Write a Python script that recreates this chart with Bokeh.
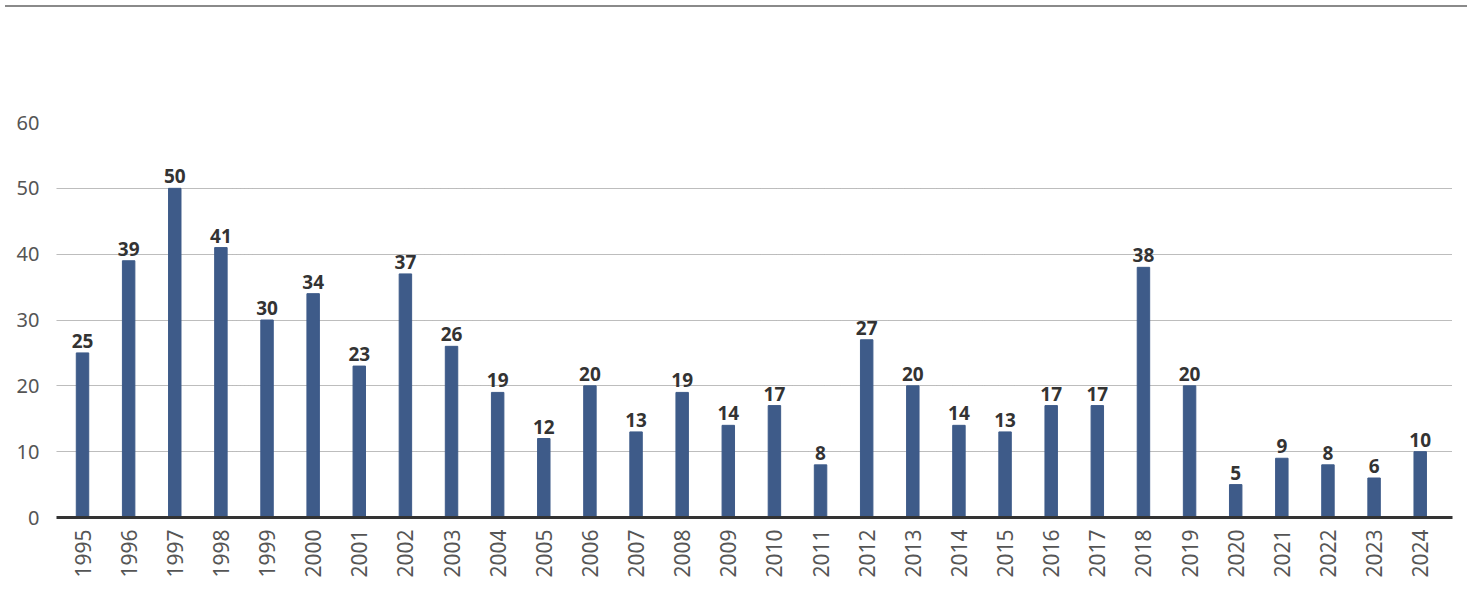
from bokeh.plotting import figure
from bokeh.models import Range1d, FixedTicker, ColumnDataSource, Div
from bokeh.core.properties import value
from bokeh.layouts import column
from bokeh.embed import file_html
from bokeh.resources import INLINE
import math

years = list(range(1995, 2025))
values = [25, 39, 50, 41, 30, 34, 23, 37, 26, 19, 12, 20, 13, 19, 14, 17, 8, 27, 20, 14,
          13, 17, 17, 38, 20, 5, 9, 8, 6, 10]
y_ticks = [0, 10, 20, 30, 40, 50, 60]

src = ColumnDataSource(dict(x=years, top=values, label=[str(v) for v in values]))

FONT = "Noto Sans"

p = figure(width=1462, height=573, output_backend="svg", toolbar_location=None,
           x_range=Range1d(1995 - 0.564, 2024 + 0.70), y_range=Range1d(0, 60),
           min_border_left=56, min_border_right=10, min_border_top=110, min_border_bottom=68)
p.outline_line_color = None
p.background_fill_color = "white"
p.border_fill_color = "white"

p.vbar(x="x", top="top", width=0.27, source=src, color="#3e5b89")

p.text(x="x", y="top", text="label", source=src, text_align="center",
       text_baseline="bottom", y_offset=-5, text_font_size="19px",
       text_color="#333333", text_font=value(FONT), text_font_style="bold")

p.xgrid.grid_line_color = None
p.ygrid.grid_line_color = "#7a7a7a"
p.ygrid.grid_line_dash = "1 1"
p.ygrid.grid_line_width = 1
p.ygrid.ticker = FixedTicker(ticks=y_ticks)

p.yaxis.ticker = FixedTicker(ticks=y_ticks)
p.yaxis.axis_line_color = None
p.yaxis.major_tick_line_color = None
p.yaxis.minor_tick_line_color = None
p.yaxis.major_label_text_font_size = "20px"
p.yaxis.major_label_text_color = "#555555"
p.yaxis.major_label_text_font = FONT
p.yaxis.major_label_standoff = 11

p.xaxis.ticker = FixedTicker(ticks=years)
p.xaxis.axis_line_color = "#333333"
p.xaxis.axis_line_width = 3
p.xaxis.major_tick_line_color = None
p.xaxis.minor_tick_line_color = None
p.xaxis.major_label_orientation = math.pi / 2
p.xaxis.major_label_text_font_size = "21px"
p.xaxis.major_label_text_color = "#555555"
p.xaxis.major_label_text_font = FONT
p.xaxis.major_label_standoff = 6

top_line = Div(width=1462, height=2, styles={"background-color": "#8a8a8a"})
layout = column(top_line, p, spacing=0)

open("out.html", "w").write(file_html(layout, INLINE))
